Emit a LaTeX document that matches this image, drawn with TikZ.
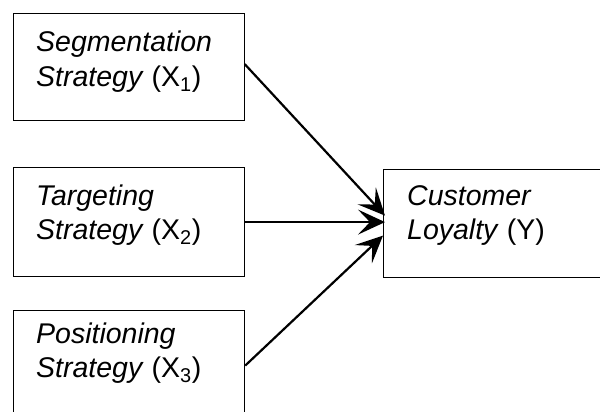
\documentclass[tikz,border=0pt]{standalone}
\usepackage{fontspec}
\setmainfont{Liberation Sans}
\usetikzlibrary{arrows.meta}
\begin{document}
\begin{tikzpicture}[x=1pt,y=-1pt,
  boxnode/.style={draw=black,line width=1.2pt,rectangle,anchor=north west,inner sep=0pt},
  txt/.style={anchor=base west,inner sep=0pt,font=\fontsize{28.5}{34.5}\selectfont},
  conn/.style={line width=2.2pt,-{Stealth[length=27pt,width=25pt,inset=12pt]}}]
\useasboundingbox (0,0) rectangle (600,412);
\clip (0,0) rectangle (600,412);
\node[boxnode,minimum width=231pt,minimum height=107pt] (b1) at (12.5,13) {};
\node[boxnode,minimum width=231pt,minimum height=109pt] (b2) at (13,167) {};
\node[boxnode,minimum width=231pt,minimum height=110pt] (b3) at (13,310) {};
\node[boxnode,minimum width=240pt,minimum height=108pt] (y) at (383,169) {};
\node[txt] (t1) at (36,52) {\parbox[t]{200pt}{\textit{Segmentation}\\\textit{Strategy} (X\textsubscript{1})}};
\node[txt] (t2) at (36,205) {\parbox[t]{200pt}{\textit{Targeting}\\\textit{Strategy} (X\textsubscript{2})}};
\node[txt] (t3) at (36,343) {\parbox[t]{200pt}{\textit{Positioning}\\\textit{Strategy} (X\textsubscript{3})}};
\node[txt] (ty) at (407,205) {\parbox[t]{180pt}{\textit{Customer}\\\textit{Loyalty} (Y)}};
\draw[conn] ([yshift=3pt]b1.east) -- ([xshift=2pt,yshift=8pt]y.west);
\draw[conn] (b2.east) -- ([xshift=2pt]y.west |- b2.east);
\draw[conn] (b3.east) -- ([yshift=-12pt]y.west);
\end{tikzpicture}
\end{document}
